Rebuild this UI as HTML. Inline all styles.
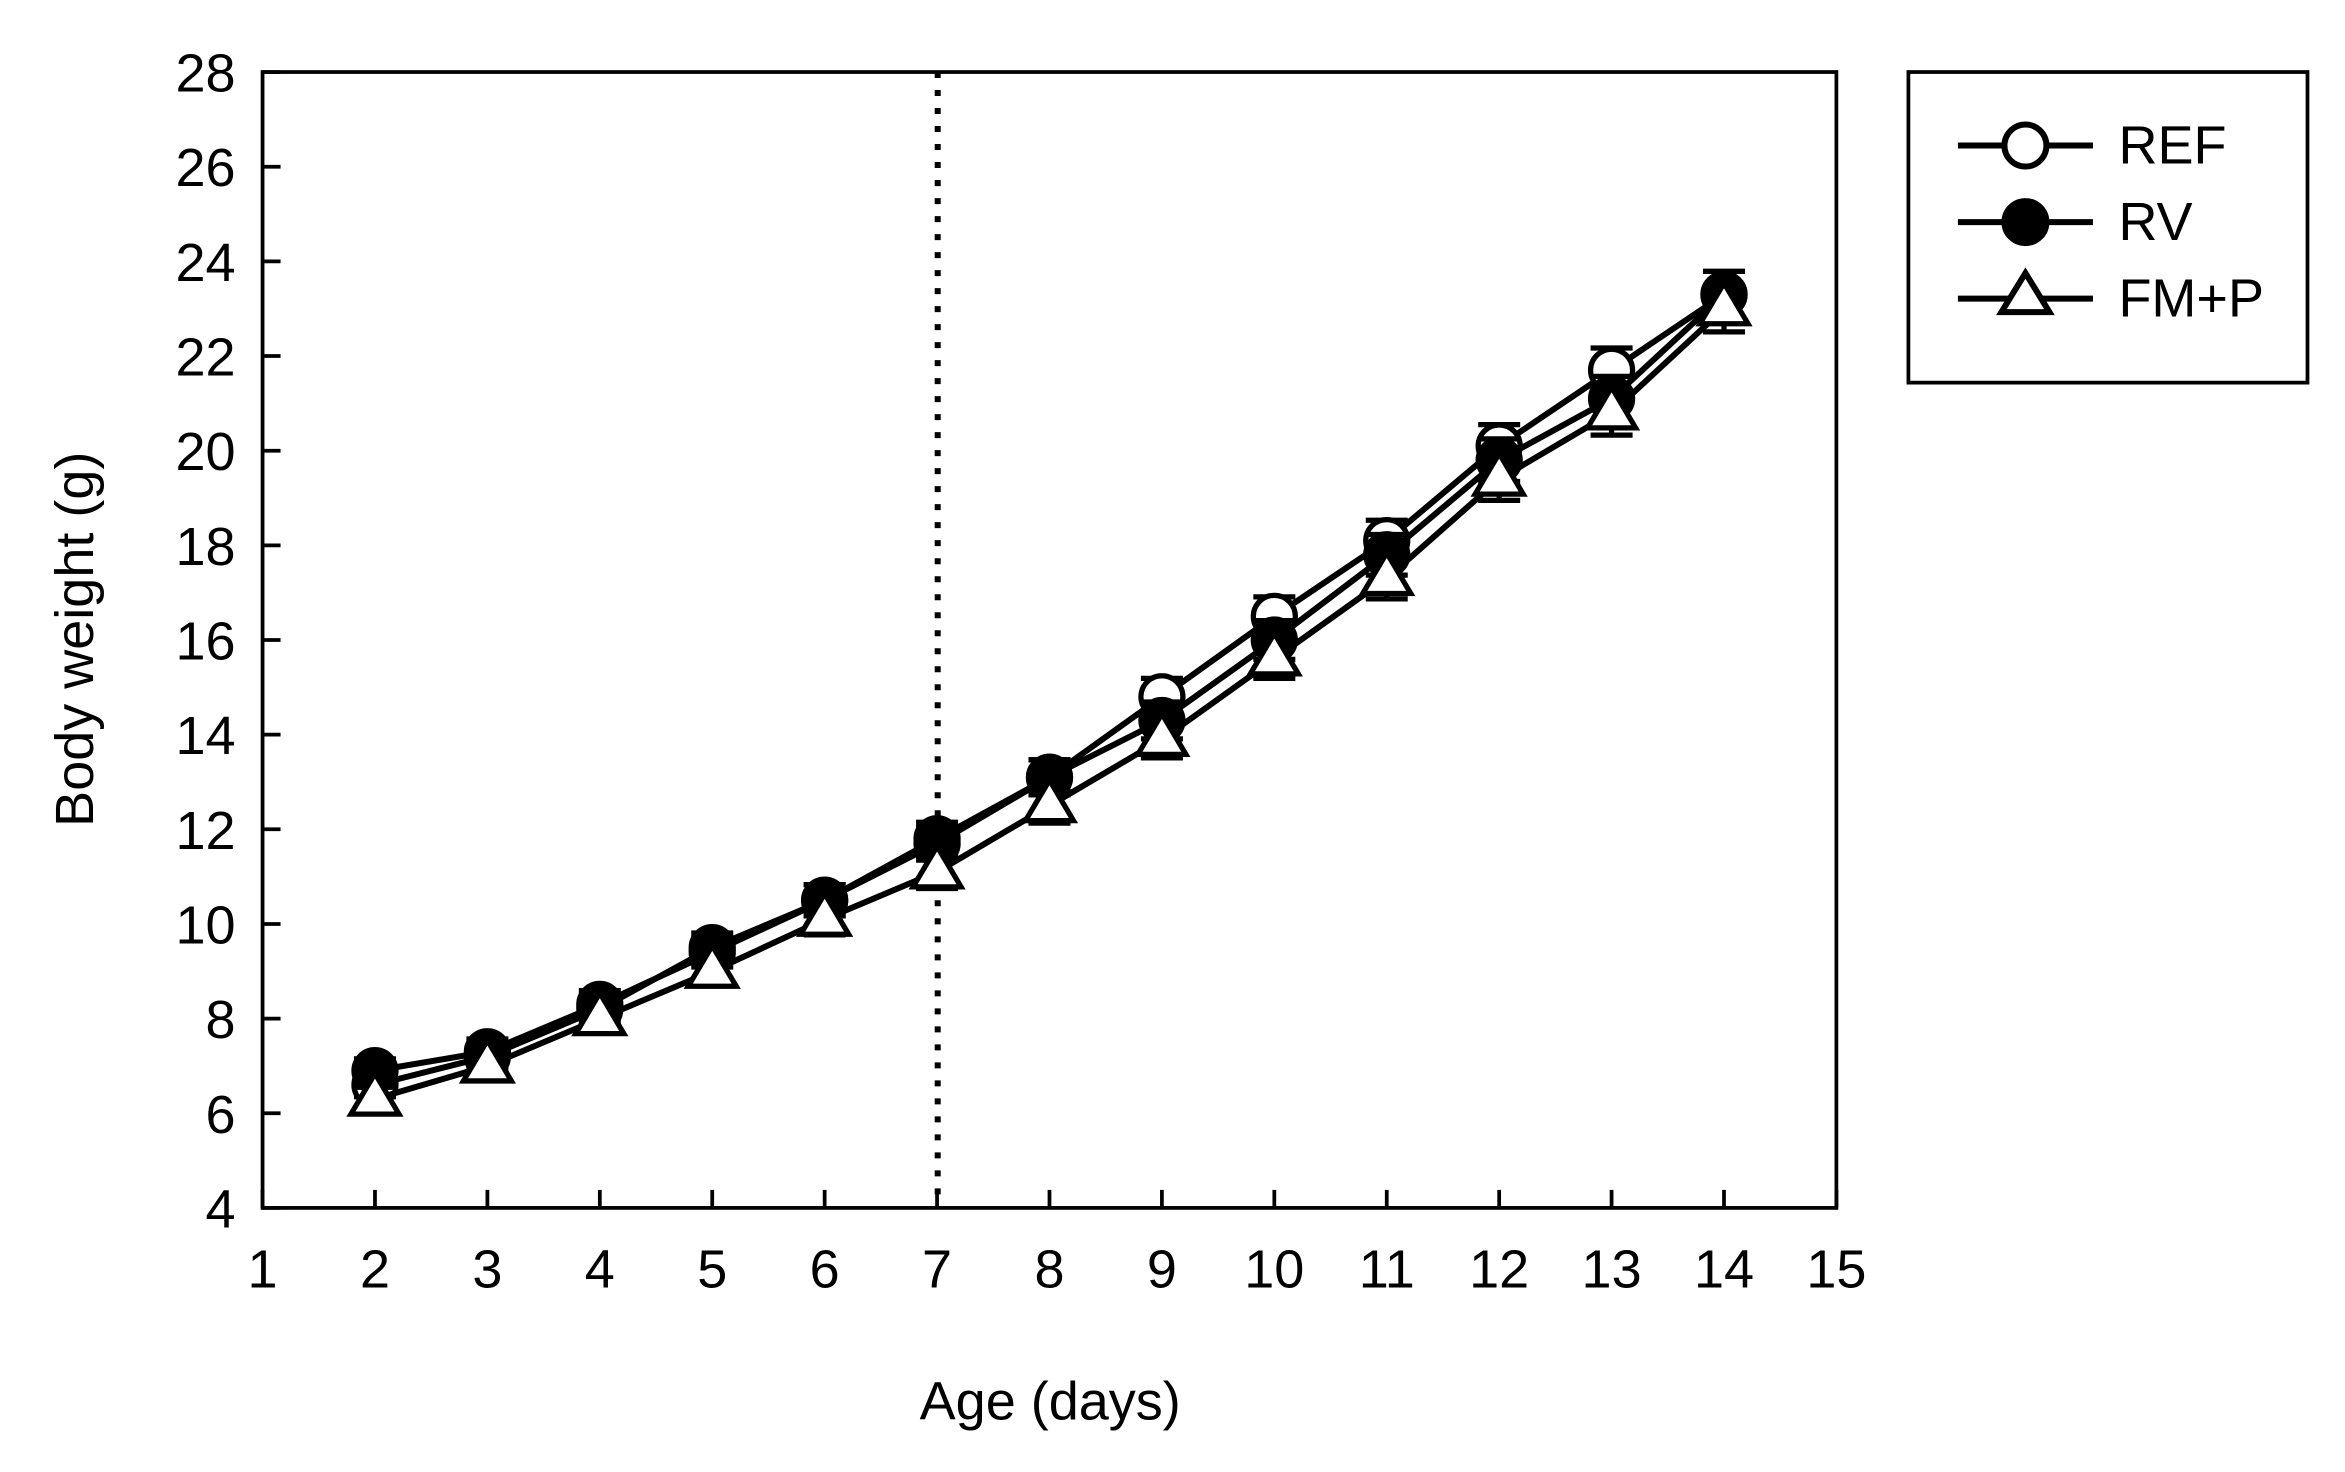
<!DOCTYPE html>
<html><head><meta charset="utf-8"><style>html,body{margin:0;padding:0;background:#fff}svg{display:block}</style></head>
<body>
<svg width="2345" height="1472" viewBox="0 0 1563 981" preserveAspectRatio="none" xmlns="http://www.w3.org/2000/svg" font-family="Liberation Sans, sans-serif">
<rect x="175" y="48" width="1049" height="757" fill="none" stroke="#000" stroke-width="2.5"/>
<line x1="625" y1="48" x2="625" y2="805" stroke="#000" stroke-width="4" stroke-dasharray="4,8"/>
<g id="ax" stroke="#000" stroke-width="2.5"></g>
<g id="ser"></g>
<text x="700" y="946" font-size="36" text-anchor="middle">Age (days)</text>
<text transform="translate(62,426) rotate(-90)" font-size="36" text-anchor="middle">Body weight (g)</text>
<rect x="1272" y="48" width="266" height="207" fill="none" stroke="#000" stroke-width="2.5"/>
<g stroke="#000" stroke-width="4" fill="none">
<line x1="1305" y1="97" x2="1395" y2="97"/><circle cx="1350" cy="97" r="14" fill="#fff"/>
<line x1="1305" y1="148" x2="1395" y2="148"/><circle cx="1350" cy="148" r="14" fill="#000"/>
<line x1="1305" y1="199" x2="1395" y2="199"/><polygon points="1350,182 1366,208 1334,208" fill="#fff"/>
</g>
<g font-size="36"><text x="1412" y="109">REF</text><text x="1412" y="160">RV</text><text x="1412" y="211">FM+P</text></g>
</svg>
<script>
const ns="http://www.w3.org/2000/svg",svg=document.querySelector('svg');
const X=d=>175+(d-1)*74.93,Y=v=>805-(v-4)*31.54;
function el(t,a,p){const e=document.createElementNS(ns,t);for(const k in a)e.setAttribute(k,a[k]);(p||svg).appendChild(e);return e;}
const ax=document.getElementById('ax');
for(let d=1;d<=15;d++){el('line',{x1:X(d),y1:805,x2:X(d),y2:793},ax);const t=el('text',{x:X(d),y:858,'font-size':36,'text-anchor':'middle',stroke:'none'});t.textContent=d;}
for(let v=4;v<=28;v+=2){el('line',{x1:175,y1:Y(v),x2:187,y2:Y(v)},ax);const t=el('text',{x:157,y:Y(v)+13,'font-size':36,'text-anchor':'end'});t.textContent=v;}
const S=[
['o',[6.6,7.2,8.2,9.5,10.5,11.7,13.1,14.8,16.5,18.1,20.1,21.7,23.3]],
['f',[6.9,7.3,8.3,9.4,10.5,11.8,13.1,14.3,16.0,17.8,19.8,21.1,23.3]],
['t',[6.3,7.0,8.0,9.0,10.1,11.1,12.5,13.9,15.6,17.3,19.4,20.8,23.0]]];
const g=document.getElementById('ser');
S.forEach(([m,d])=>{
 el('polyline',{points:d.map((v,i)=>X(i+2)+','+Y(v)).join(' '),fill:'none',stroke:'#000','stroke-width':4},g);
 d.forEach((v,i)=>{const x=X(i+2),e=0.25+i*0.02;
  el('line',{x1:x,y1:Y(v-e),x2:x,y2:Y(v+e),stroke:'#000','stroke-width':3.5},g);
  el('line',{x1:x-14,y1:Y(v+e),x2:x+14,y2:Y(v+e),stroke:'#000','stroke-width':3.5},g);
  el('line',{x1:x-14,y1:Y(v-e),x2:x+14,y2:Y(v-e),stroke:'#000','stroke-width':3.5},g);
 });
 d.forEach((v,i)=>{const x=X(i+2),y=Y(v);
  if(m==='t')el('polygon',{points:`${x},${y-17} ${x+16},${y+10} ${x-16},${y+10}`,fill:'#fff',stroke:'#000','stroke-width':3.5},g);
  else el('circle',{cx:x,cy:y,r:14,fill:m==='f'?'#000':'#fff',stroke:'#000','stroke-width':3.5},g);
 });
});
</script>
</body></html>
